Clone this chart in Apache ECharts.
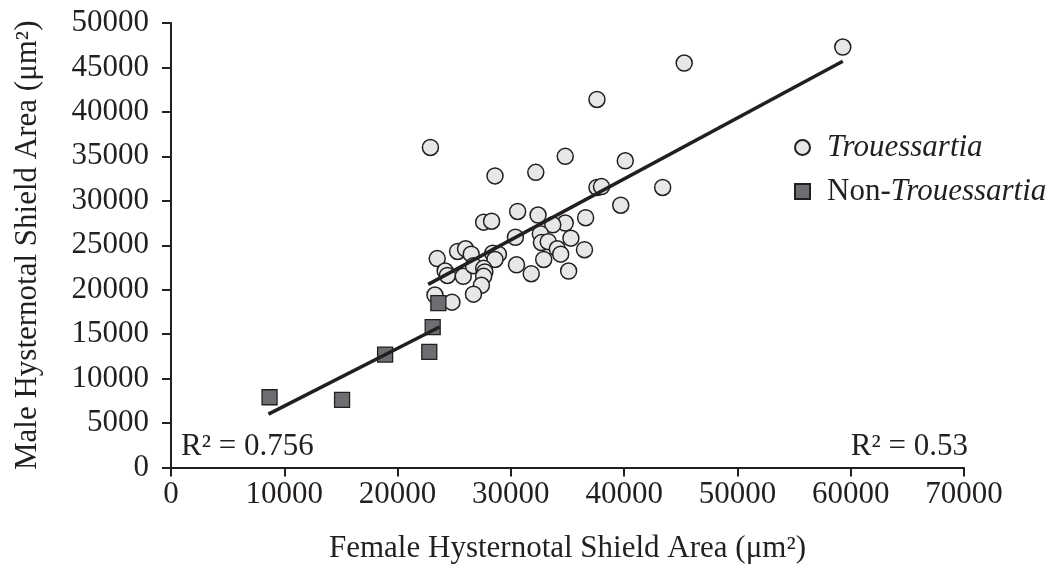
<!DOCTYPE html>
<html>
<head>
<meta charset="utf-8">
<script src="https://cdn.jsdelivr.net/npm/echarts@6/dist/echarts.min.js"></script>
<style>
  html, body { margin: 0; padding: 0; background: #ffffff; }
  #chart { width: 1062px; height: 579px; }
</style>
</head>
<body>
<div id="chart"></div>
<script>
// Hysternotal shield areas (µm²): female on x, male on y
const trouFemale = [59300, 45300, 37600, 22900, 34800, 40100, 28600, 32200, 37600, 38000,
  43400, 39700, 36600, 30600, 32400, 27600, 28300, 34800, 33700, 30400,
  32600, 32700, 33300, 35300, 34100, 34400, 36500, 32900, 35100, 31800,
  30500, 23500, 25300, 26000, 26500, 28400, 28900, 28600, 24200, 24400,
  25800, 26700, 27600, 27700, 27600, 27400, 26700, 23300, 24800];
const trouMale = [47300, 45500, 41400, 36000, 35000, 34500, 32800, 33200, 31500, 31600,
  31500, 29500, 28100, 28800, 28400, 27600, 27700, 27500, 27300, 25900,
  26300, 25300, 25400, 25800, 24600, 24000, 24500, 23400, 22100, 21800,
  22800, 23500, 24300, 24600, 24000, 24100, 24000, 23400, 22100, 21600,
  21500, 22700, 22400, 22000, 21500, 20500, 19500, 19400, 18600];

const nonFemale = [8700, 15100, 18900, 22800, 23100, 23600];
const nonMale = [7900, 7600, 12700, 13000, 15800, 18500];

// Fitted trend lines, end points
const trouTrendX = [22700, 59300];
const trouTrendY = [20600, 45700];
const nonTrendX = [8600, 23700];
const nonTrendY = [6000, 15800];

const r2Labels = ['R\u00b2 = 0.756', 'R\u00b2 = 0.53'];
const seriesNames = ['Trouessartia', 'Non-Trouessartia'];
const xTitle = 'Female Hysternotal Shield Area (\u03bcm\u00b2)';
const yTitle = 'Male Hysternotal Shield Area (\u03bcm\u00b2)';

const FONT = "'Liberation Serif', 'Times New Roman', serif";
const INK = '#231f20';
const FS = 31;

const zip = (a, b) => a.map((v, i) => [v, b[i]]);
const plain = v => String(v);

const chart = echarts.init(document.getElementById('chart'), null, { renderer: 'canvas' });

const axisCommon = {
  axisLine: { show: true, lineStyle: { color: INK, width: 2 } },
  axisTick: { show: true, inside: false, length: 9, lineStyle: { color: INK, width: 2 } },
  splitLine: { show: false },
  nameLocation: 'middle',
  nameTextStyle: { fontFamily: FONT, fontSize: FS, color: INK }
};

chart.setOption({
  animation: false,
  backgroundColor: '#ffffff',
  textStyle: { fontFamily: FONT, color: INK },
  grid: { left: 171, right: 98, top: 23, bottom: 111.5, containLabel: false },
  xAxis: Object.assign({}, axisCommon, {
    type: 'value', min: 0, max: 70000, interval: 10000,
    name: xTitle, nameGap: 66,
    axisLabel: { fontFamily: FONT, fontSize: FS, color: INK, margin: 12, formatter: plain }
  }),
  yAxis: Object.assign({}, axisCommon, {
    type: 'value', min: 0, max: 50000, interval: 5000,
    name: yTitle, nameGap: 128,
    axisLabel: { fontFamily: FONT, fontSize: FS, color: INK, margin: 22, formatter: plain }
  }),
  legend: {
    orient: 'vertical', left: 789, top: 127,
    itemWidth: 15, itemHeight: 15, itemGap: 13,
    data: seriesNames,
    textStyle: {
      fontFamily: FONT, fontSize: FS, color: INK, padding: [0, 0, 0, 12],
      rich: {
        i: { fontFamily: FONT, fontSize: FS, color: INK, fontStyle: 'italic' },
        n: { fontFamily: FONT, fontSize: FS, color: INK }
      }
    },
    formatter: name => name.startsWith('Non-')
      ? '{n|Non-}{i|' + name.slice(4) + '}'
      : '{i|' + name + '}'
  },
  graphic: [
    { type: 'text', left: 181, top: 431, z: 10,
      style: { text: r2Labels[0], font: FS + 'px ' + FONT, fill: INK } },
    { type: 'text', right: 94, top: 431, z: 10,
      style: { text: r2Labels[1], font: FS + 'px ' + FONT, fill: INK } }
  ],
  series: [
    {
      name: seriesNames[0], type: 'scatter', symbol: 'circle', symbolSize: 16,
      itemStyle: { color: '#e6e7e8', borderColor: INK, borderWidth: 1.5, opacity: 1 },
      data: zip(trouFemale, trouMale), z: 2
    },
    {
      name: seriesNames[1], type: 'scatter', symbol: 'rect', symbolSize: 15,
      itemStyle: { color: '#6d6e71', borderColor: INK, borderWidth: 1.3, opacity: 1 },
      data: zip(nonFemale, nonMale), z: 3
    },
    {
      type: 'line', symbol: 'none', silent: true, z: 4,
      lineStyle: { color: INK, width: 3.5 },
      data: zip(trouTrendX, trouTrendY)
    },
    {
      type: 'line', symbol: 'none', silent: true, z: 4,
      lineStyle: { color: INK, width: 3.5 },
      data: zip(nonTrendX, nonTrendY)
    }
  ]
});
</script>
</body>
</html>
